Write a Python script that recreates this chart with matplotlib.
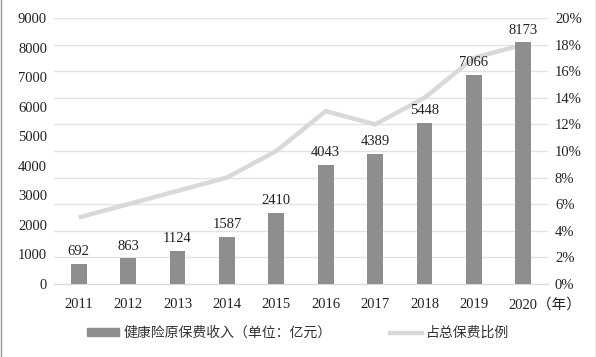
import matplotlib
matplotlib.use("Agg")
import matplotlib.pyplot as plt
import matplotlib.transforms as mtransforms
from matplotlib.lines import Line2D
from matplotlib.ticker import FuncFormatter

plt.rcParams['font.family'] = ['Liberation Serif', 'Noto Sans CJK SC']

years = ['2011', '2012', '2013', '2014', '2015', '2016', '2017', '2018', '2019', '2020']
premium = [692, 863, 1124, 1587, 2410, 4043, 4389, 5448, 7066, 8173]
share = [5, 6, 7, 8, 10, 13, 12, 14, 17, 18]

bar_color = '#8e8e91'
line_color = '#d9d9d9'
text_color = '#222222'

fig = plt.figure(figsize=(5.96, 3.57), dpi=100)
ax = fig.add_axes([54 / 596, 1 - 284 / 357, 494 / 596, 266 / 357])
ax2 = ax.twinx()
# bars drawn over the line
ax.set_zorder(ax2.get_zorder() + 1)
ax.patch.set_visible(False)

x = list(range(len(years)))
ax.bar(x, premium, width=0.32, color=bar_color, zorder=3)
for xi, v in zip(x, premium):
    ax.text(xi, v + 200, str(v), ha='center', va='bottom', fontsize=10.5, color=text_color)

ax2.plot(x, share, color=line_color, linewidth=3.2, solid_capstyle='butt')

ax.set_xlim(-0.5, len(years) - 0.5)
ax.set_ylim(0, 9000)
ax.set_yticks(range(0, 9001, 1000))
ax2.set_ylim(0, 20)
ax2.set_yticks(range(0, 21, 2))
ax2.yaxis.set_major_formatter(FuncFormatter(lambda v, p: f'{int(v)}%'))

ax2.grid(axis='y', color='#e3e3e3', linewidth=1)
ax2.set_axisbelow(True)
ax.set_xticks(x)
ax.set_xticklabels(years[:-1] + [years[-1] + '（年）'])
for a in (ax, ax2):
    for s in a.spines.values():
        s.set_visible(False)
    a.tick_params(length=0, labelsize=10.5, colors=text_color)
ax.spines['bottom'].set_visible(True)
ax.spines['bottom'].set_color('#d9d9d9')
ax.tick_params(axis='x', pad=10)
ax.tick_params(axis='y', pad=5)
ax2.tick_params(axis='y', pad=5)

# keep "2020" centred under its bar, unit follows on the right
last = ax.get_xticklabels()[-1]
last.set_ha('left')
last.set_transform(last.get_transform() + mtransforms.ScaledTranslation(-14.5 / 100, 0, fig.dpi_scale_trans))

handles = [
    plt.Rectangle((0, 0), 1, 1, color=bar_color),
    Line2D([0], [0], color=line_color, linewidth=3.2),
]
leg = fig.legend(handles, ['健康险原保费收入（单位：亿元）', '占总保费比例'],
                 loc='center', bbox_to_anchor=(0.5, 1 - 333 / 357), ncol=2, frameon=False,
                 handlelength=2.3, handleheight=0.45, handletextpad=0.3, columnspacing=4.2,
                 prop={'family': ['Noto Sans CJK SC'], 'size': 10})
for t in leg.get_texts():
    t.set_color('#333333')

fig.add_artist(Line2D([0.5 / 596, 0.5 / 596], [0, 1], transform=fig.transFigure, color='#999999', linewidth=1))
fig.add_artist(Line2D([595.5 / 596, 595.5 / 596], [0, 1], transform=fig.transFigure, color='#999999', linewidth=1))

fig.savefig('out.png', dpi=100)
